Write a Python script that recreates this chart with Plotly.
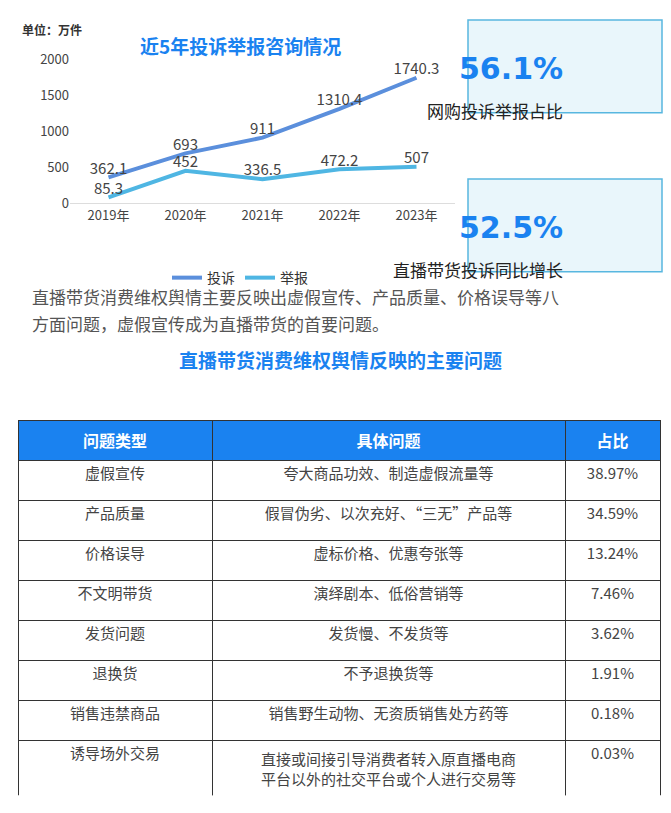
import plotly.graph_objects as go

W, H = 655, 797
years = ["2019年", "2020年", "2021年", "2022年", "2023年"]
complaints = [362.1, 693, 911, 1310.4, 1740.3]
reports = [85.3, 452, 336.5, 472.2, 507]
complaint_labels = ["362.1", "693", "911", "1310.4", "1740.3"]
report_labels = ["85.3", "452", "336.5", "472.2", "507"]

stat_values = ["56.1%", "52.5%"]
stat_captions = ["网购投诉举报占比", "直播带货投诉同比增长"]

col_headers = ["问题类型", "具体问题", "占比"]
issue_types = ["虚假宣传", "产品质量", "价格误导", "不文明带货", "发货问题", "退换货", "销售违禁商品", "诱导场外交易"]
issue_details = ["夸大商品功效、制造虚假流量等", "假冒伪劣、以次充好、“三无”产品等", "虚标价格、优惠夸张等",
                 "演绎剧本、低俗营销等", "发货慢、不发货等", "不予退换货等", "销售野生动物、无资质销售处方药等",
                 "直接或间接引导消费者转入原直播电商<br>平台以外的社交平台或个人进行交易等"]
issue_share = ["38.97%", "34.59%", "13.24%", "7.46%", "3.62%", "1.91%", "0.18%", "0.03%"]

FONT = "Noto Sans CJK SC"
OFF = 8
def px(x): return (x - OFF) / W
def py(y): return 1 - (y - OFF) / H

fig = go.Figure()
fig.add_trace(go.Scatter(x=years, y=complaints, mode="lines+text", name="投诉",
                         line=dict(color="#5b8fdc", width=4), text=complaint_labels,
                         textposition="top center", textfont=dict(size=15, color="#444")))
fig.add_trace(go.Scatter(x=years, y=reports, mode="lines+text", name="举报",
                         line=dict(color="#4fb6e3", width=4), text=report_labels,
                         textposition="top center", textfont=dict(size=15, color="#444")))

fig.add_trace(go.Table(
    domain=dict(x=[px(18), px(660)], y=[py(805), py(420)]),
    columnwidth=[194, 353, 95],
    header=dict(values=[f"<b>{h}</b>" for h in col_headers], fill_color="#1a82f0",
                font=dict(color="white", size=16, family=FONT), align="center", height=38,
                line=dict(color="#333", width=1)),
    cells=dict(values=[issue_types, issue_details, issue_share], fill_color="white",
               font=dict(color="#444", size=15, family=FONT), align="center", height=40,
               line=dict(color="#333", width=1)),
))

fig.update_layout(
    width=W, height=H, margin=dict(l=0, r=0, t=0, b=0),
    paper_bgcolor="white", plot_bgcolor="white",
    font=dict(family=FONT),
    xaxis=dict(domain=[px(70), px(455)], range=[-0.5, 4.5], showgrid=False, showline=True,
               linecolor="#ddd", ticks="", tickfont=dict(size=13, color="#444"), fixedrange=True),
    yaxis=dict(domain=[py(198), py(50)], range=[0, 2000], dtick=500, showgrid=False,
               zeroline=False, tickfont=dict(size=13, color="#444")),
    legend=dict(orientation="h", x=px(240), y=py(258), xanchor="center", yanchor="top",
                font=dict(size=14, color="#333")),
    showlegend=True,
)

boxes = [(468, 10, 662, 105), (468, 173, 662, 268)]
for (x0, y0, x1, y1), v, c in zip(boxes, stat_values, stat_captions):
    fig.add_shape(type="rect", xref="paper", yref="paper", x0=px(x0), x1=px(x1), y0=py(y1), y1=py(y0),
                  fillcolor="#e9f6fb", line=dict(color="#58b7e0", width=1.5), layer="below")
    fig.add_annotation(x=px((x0 + x1) / 2), y=py(y0 + 30), xref="paper", yref="paper", text=f"<b>{v}</b>",
                       showarrow=False, font=dict(size=30, color="#1a82f0", family="DejaVu Sans"))
    fig.add_annotation(x=px((x0 + x1) / 2), y=py(y0 + 78), xref="paper", yref="paper", text=c,
                       showarrow=False, font=dict(size=17, color="#222"))

fig.add_annotation(x=px(20), y=py(9), xref="paper", yref="paper", xanchor="left", text="<b>单位：万件</b>",
                   showarrow=False, font=dict(size=12, color="#333"))
fig.add_annotation(x=px(240), y=py(20), xref="paper", yref="paper", text="<b>近5年投诉举报咨询情况</b>",
                   showarrow=False, font=dict(size=19, color="#1a82f0"))
fig.add_annotation(x=px(30), y=py(293), xref="paper", yref="paper", xanchor="left",
                   text="直播带货消费维权舆情主要反映出虚假宣传、产品质量、价格误导等八",
                   showarrow=False, font=dict(size=17, color="#555"))
fig.add_annotation(x=px(30), y=py(321), xref="paper", yref="paper", xanchor="left",
                   text="方面问题，虚假宣传成为直播带货的首要问题。",
                   showarrow=False, font=dict(size=17, color="#555"))
fig.add_annotation(x=px(340), y=py(358), xref="paper", yref="paper", text="<b>直播带货消费维权舆情反映的主要问题</b>",
                   showarrow=False, font=dict(size=19, color="#1a82f0"))

fig.write_html("out.html")
